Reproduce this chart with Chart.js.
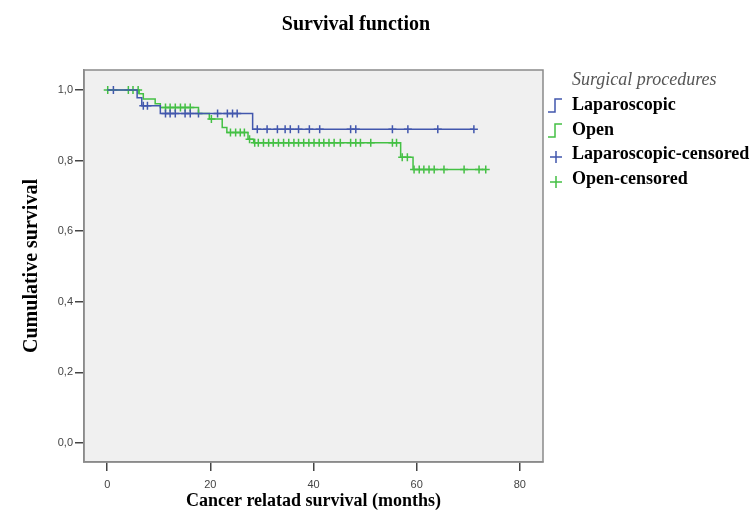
<!DOCTYPE html>
<html>
<head>
<meta charset="utf-8">
<script src="https://cdn.jsdelivr.net/npm/chart.js@4"></script>
<style>
  html, body { margin: 0; padding: 0; background: #ffffff; }
  #wrap { width: 752px; height: 513px; }
</style>
</head>
<body>
<div id="wrap"><canvas id="kmChart" width="752" height="513"></canvas></div>
<script>
// ===============================
// DATA
// ===============================
const lapTimes = [0, 5.8, 6.7, 10.3, 28.2, 71.1];
const lapSurvival = [1.0, 0.978, 0.956, 0.934, 0.889, 0.889];
const lapCensored = [1.2, 7.0, 7.8, 11.3, 12.2, 13.2, 15.1, 16.1, 17.7, 21.4, 23.3, 24.3, 25.2,
  29.1, 31.0, 33.0, 34.5, 35.5, 37.1, 39.2, 41.2, 47.2, 48.2, 55.3, 58.3, 64.1, 71.1];

const openTimes = [0, 6.2, 7.0, 9.3, 10.3, 17.7, 19.8, 22.3, 23.2, 27.3, 28.4, 56.9, 59.3, 73.4];
const openSurvival = [1.0, 0.99, 0.975, 0.961, 0.951, 0.934, 0.918, 0.894, 0.88, 0.861, 0.851, 0.81, 0.775, 0.775];
const openCensored = [0.1, 4.1, 5.0, 6.0, 11.3, 12.2, 13.2, 14.2, 15.1, 16.1, 20.2, 23.9, 24.9, 25.8, 26.6,
  27.6, 28.6, 29.3, 30.3, 31.3, 32.2, 33.2, 34.2, 35.2, 36.2, 37.1, 38.1, 39.1, 40.1, 41.1, 42.0,
  43.0, 44.0, 45.2, 47.2, 48.2, 49.1, 51.1, 55.3, 56.1, 57.2, 58.2, 59.5, 60.5, 61.4, 62.4, 63.4,
  65.3, 69.2, 72.1, 73.4];

const xTicks = [0, 20, 40, 60, 80];
const yTicks = [0, 0.2, 0.4, 0.6, 0.8, 1.0];
const yTickLabels = ["0,0", "0,2", "0,4", "0,6", "0,8", "1,0"];

const seriesNames = ["Laparoscopic", "Open", "Laparoscopic-censored", "Open-censored"];
const legendTitle = "Surgical procedures";
const chartTitle = "Survival function";

const blue = "#4257ad";
const green = "#44c044";

// ===============================
// BANTUAN
// ===============================
function toPoints(times, surv) {
  return times.map((t, i) => ({ x: t, y: surv[i] }));
}

// nilai kurva tangga pada waktu t (untuk posisi tanda sensor)
function stepValue(times, surv, t) {
  let v = surv[0];
  for (let i = 0; i < times.length; i++) {
    if (times[i] <= t) v = surv[i];
  }
  return v;
}

function censorPoints(censored, times, surv) {
  return censored.map(t => ({ x: t, y: stepValue(times, surv, t) }));
}

// ===============================
// PLUGIN: latar plot, judul, legenda
// ===============================
const spssFrame = {
  id: "spssFrame",
  beforeDraw(chart) {
    const { ctx, chartArea: a } = chart;
    ctx.save();
    ctx.fillStyle = "#f0f0f0";
    ctx.fillRect(a.left, a.top, a.right - a.left, a.bottom - a.top);
    ctx.restore();
  },
  afterDraw(chart) {
    const { ctx, chartArea: a } = chart;
    ctx.save();
    ctx.strokeStyle = "#8a8a8a";
    ctx.lineWidth = 1.5;
    ctx.strokeRect(a.left, a.top, a.right - a.left, a.bottom - a.top);

    // judul
    ctx.fillStyle = "#000";
    ctx.font = "bold 20px 'Liberation Serif', serif";
    ctx.textAlign = "center";
    ctx.textBaseline = "middle";
    ctx.fillText(chartTitle, 356, 25);

    // legenda
    ctx.textAlign = "left";
    ctx.font = "italic 18px 'Liberation Serif', serif";
    ctx.fillStyle = "#555";
    ctx.fillText(legendTitle, 572, 80);

    ctx.font = "bold 18px 'Liberation Serif', serif";
    const rows = [105, 130, 154, 179];
    const colors = [blue, green, blue, green];
    rows.forEach((y, i) => {
      ctx.strokeStyle = colors[i];
      ctx.lineWidth = 1.5;
      ctx.beginPath();
      if (i < 2) {
        ctx.moveTo(548, y + 7);
        ctx.lineTo(555, y + 7);
        ctx.lineTo(555, y - 6);
        ctx.lineTo(562, y - 6);
      } else {
        ctx.moveTo(550, y + 3);
        ctx.lineTo(562, y + 3);
        ctx.moveTo(556, y - 3);
        ctx.lineTo(556, y + 9);
      }
      ctx.stroke();
      ctx.fillStyle = "#000";
      ctx.fillText(seriesNames[i], 572, y);
    });
    ctx.restore();
  }
};

// ===============================
// INIT CHART
// ===============================
const ctx = document.getElementById("kmChart");

new Chart(ctx, {
  type: "line",
  data: {
    datasets: [
      {
        label: seriesNames[0],
        data: toPoints(lapTimes, lapSurvival),
        stepped: "before",
        borderColor: blue,
        borderWidth: 1.5,
        pointRadius: 0,
        fill: false
      },
      {
        label: seriesNames[1],
        data: toPoints(openTimes, openSurvival),
        stepped: "before",
        borderColor: green,
        borderWidth: 1.5,
        pointRadius: 0,
        fill: false
      },
      {
        label: seriesNames[2],
        data: censorPoints(lapCensored, lapTimes, lapSurvival),
        showLine: false,
        pointStyle: "cross",
        pointRadius: 4,
        borderColor: blue,
        borderWidth: 1.5
      },
      {
        label: seriesNames[3],
        data: censorPoints(openCensored, openTimes, openSurvival),
        showLine: false,
        pointStyle: "cross",
        pointRadius: 4,
        borderColor: green,
        borderWidth: 1.5
      }
    ]
  },
  options: {
    responsive: false,
    animation: false,
    layout: { padding: { top: 70, right: 209, bottom: 0, left: 0 } },
    plugins: {
      legend: { display: false },
      title: { display: false },
      tooltip: { enabled: false }
    },
    scales: {
      x: {
        type: "linear",
        min: -4.5,
        max: 84.5,
        afterBuildTicks: scale => { scale.ticks = xTicks.map(v => ({ value: v })); },
        afterFit: scale => { scale.height = 51; },
        border: { display: true, color: "#8a8a8a", width: 1.5 },
        grid: { display: true, drawOnChartArea: false, drawTicks: true, tickLength: 9, color: "#444", lineWidth: 1.5 },
        ticks: {
          color: "#444",
          font: { family: "'Liberation Sans', Arial, sans-serif", size: 11 },
          padding: 7
        },
        title: {
          display: true,
          text: "Cancer relatad survival (months)",
          color: "#000",
          font: { family: "'Liberation Serif', serif", size: 18, weight: "bold" },
          padding: { top: 0, bottom: 1 }
        }
      },
      y: {
        type: "linear",
        min: -0.054,
        max: 1.057,
        afterBuildTicks: scale => { scale.ticks = yTicks.map(v => ({ value: v })); },
        afterFit: scale => { scale.width = 84; },
        border: { display: true, color: "#8a8a8a", width: 1.5 },
        grid: { display: true, drawOnChartArea: false, drawTicks: true, tickLength: 9, color: "#444", lineWidth: 1.5 },
        ticks: {
          color: "#444",
          font: { family: "'Liberation Sans', Arial, sans-serif", size: 11 },
          padding: 2,
          callback: (value) => {
            const idx = yTicks.findIndex(t => Math.abs(t - value) < 1e-6);
            return idx >= 0 ? yTickLabels[idx] : "";
          }
        },
        title: {
          display: true,
          text: "Cumulative survival",
          color: "#000",
          font: { family: "'Liberation Serif', serif", size: 20, weight: "bold" },
          padding: { top: 20, bottom: 0 }
        }
      }
    }
  },
  plugins: [spssFrame]
});
</script>
</body>
</html>
